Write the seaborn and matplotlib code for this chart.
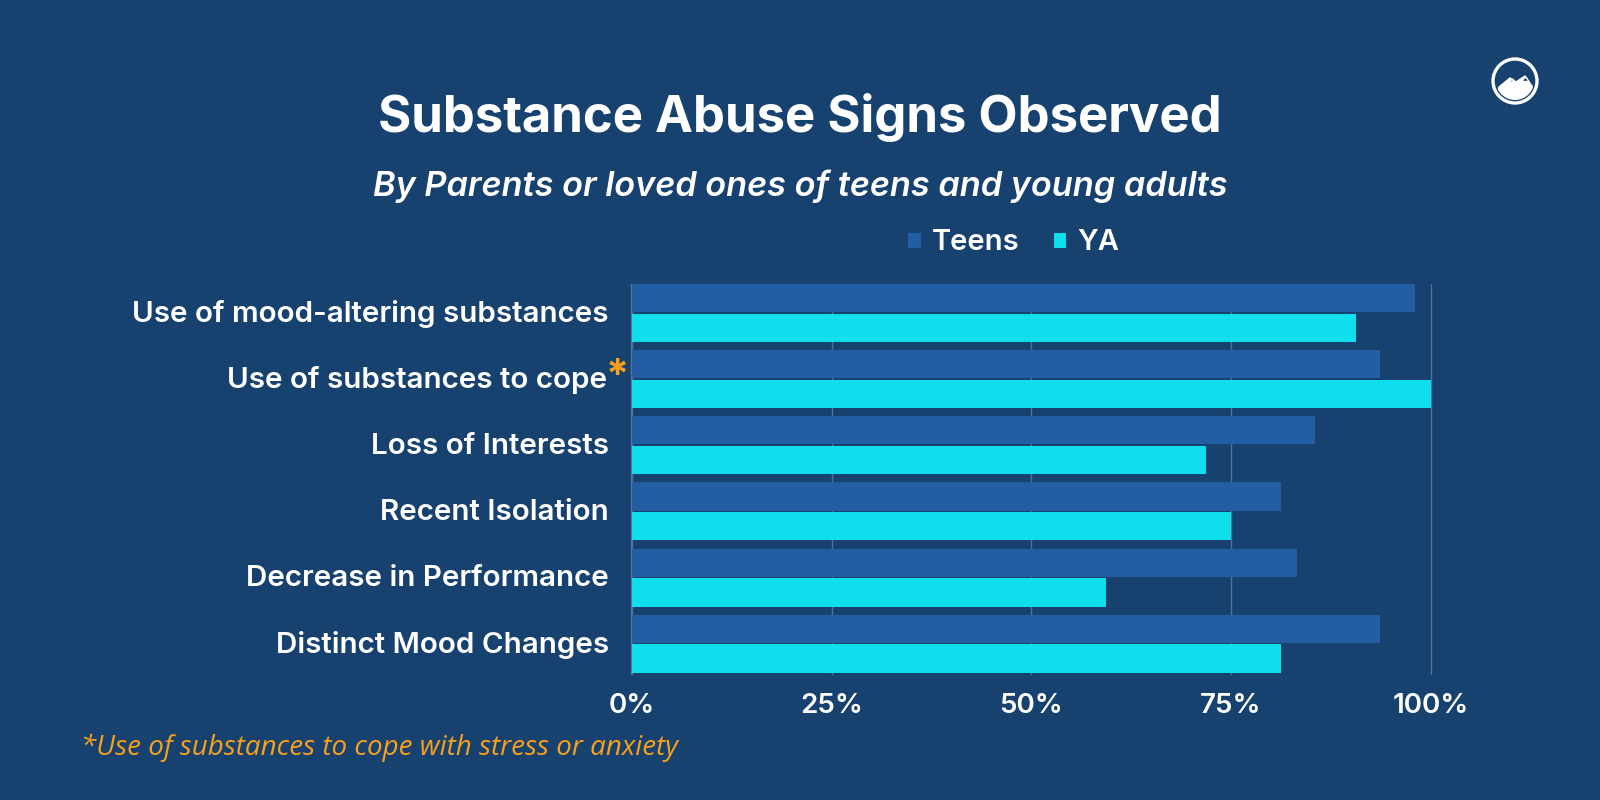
import pandas as pd
import matplotlib.pyplot as plt
from matplotlib.patches import Circle, Polygon
from matplotlib.transforms import ScaledTranslation
import seaborn as sns

# values
signs = ['Use of mood-altering substances', 'Use of substances to cope', 'Loss of Interests',
         'Recent Isolation', 'Decrease in Performance', 'Distinct Mood Changes']
teens = [98.0, 93.7, 85.5, 81.3, 83.3, 93.7]
ya = [90.7, 100.0, 71.9, 75.0, 59.4, 81.3]
x_ticks = [0, 25, 50, 75, 100]
x_labels = ['0%', '25%', '50%', '75%', '100%']

BG = '#17426F'
TEENS_C = '#245EA2'
YA_C = '#0FDFEC'
GRID_C = '#4F7399'
ORANGE = '#F9A01B'

df = pd.DataFrame({'sign': signs * 2,
                   'pct': teens + ya,
                   'group': ['Teens'] * len(signs) + ['YA'] * len(signs)})

sns.set_theme(style='white')
plt.rcParams['font.family'] = ['Inter', 'DejaVu Sans']

W, H = 1600, 800
fig = plt.figure(figsize=(16, 8), dpi=100, facecolor=BG)
ax = fig.add_axes([632 / W, 1 - 673.5 / H, 798.5 / W, 390 / H], facecolor=BG)

sns.barplot(data=df, y='sign', x='pct', hue='group', order=signs, hue_order=['Teens', 'YA'],
            palette=[TEENS_C, YA_C], width=0.9, gap=0.05, saturation=1, legend=True, ax=ax, zorder=3,
            edgecolor='none', linewidth=0)

# spine move resets the axis, so it goes before the tick styling
sns.despine(ax=ax, top=True, right=True, bottom=True, left=False)
ax.spines['left'].set_position(('outward', 0.7))
ax.spines['left'].set_color(GRID_C)
ax.spines['left'].set_linewidth(1)

ax.set_xlim(0, 100)
ax.set_ylim(5.45, -0.443)
ax.set_xticks(x_ticks)
ax.set_xticklabels(x_labels, fontsize=20, fontweight='semibold', color='white')
ax.set_yticks(range(len(signs)))
ax.set_yticklabels(signs)
ax.tick_params(axis='x', length=0, pad=14)
ax.tick_params(axis='y', length=0, pad=16)
for i, lab in enumerate(ax.get_yticklabels()):
    # the label with the asterisk sits a little further left
    dx = -2 if i == 1 else 0
    lab.set_fontsize(21.3)
    lab.set_fontweight('semibold')
    lab.set_color('white')
    lab.set_transform(lab.get_transform() + ScaledTranslation(dx / 100, 2 / 100, fig.dpi_scale_trans))
ax.set_xlabel('')
ax.set_ylabel('')
ax.grid(axis='x', color=GRID_C, linewidth=1, zorder=0)
ax.grid(axis='y', visible=False)
for line in ax.get_xgridlines():
    line.set_clip_on(False)

handles, labels = ax.get_legend_handles_labels()
ax.legend(handles, labels, ncol=2, frameon=False, loc='center', bbox_to_anchor=(1014 / W, 1 - 243 / H),
          bbox_transform=fig.transFigure, labelcolor='white', handlelength=0.42, handleheight=0.42,
          handletextpad=0.4, columnspacing=1.15, prop={'size': 21, 'weight': 'semibold'})

fig.text(800 / W, 1 - 117 / H, 'Substance Abuse Signs Observed', ha='center', va='center',
         color='white', fontsize=36.6, fontweight='bold')
fig.text(800 / W, 1 - 186 / H, 'By Parents or loved ones of teens and young adults', ha='center', va='center',
         color='white', fontsize=24.7, fontweight='semibold', style='italic')
fig.text(606 / W, 1 - 377 / H, '*', ha='left', va='center', color=ORANGE, fontsize=30, fontweight='bold')
fig.text(81 / W, 1 - 748 / H, '*Use of substances to cope with stress or anxiety', ha='left', va='center',
         color=ORANGE, fontsize=20, style='italic', family=['Open Sans', 'DejaVu Sans'])

# small round logo, top right
logo = fig.add_axes([1483 / W, 1 - 113 / H, 64 / W, 64 / H])
logo.set_xlim(0, 64)
logo.set_ylim(64, 0)
logo.axis('off')
logo.add_patch(Circle((32, 32), 22, facecolor='none', edgecolor='white', linewidth=2.4))
clip = Circle((32, 32), 19, transform=logo.transData)
mountain = Polygon([(16, 38), (27, 29), (33, 33), (42, 27), (49, 37), (52, 56), (12, 56)], facecolor='white')
logo.add_patch(mountain)
mountain.set_clip_path(clip)
for streak in ([(25, 33), (30, 30), (30, 33)], [(38, 32), (43, 28), (46, 33)]):
    logo.add_patch(Polygon(streak, facecolor=BG))

fig.savefig('out.png', dpi=100, facecolor=BG)
